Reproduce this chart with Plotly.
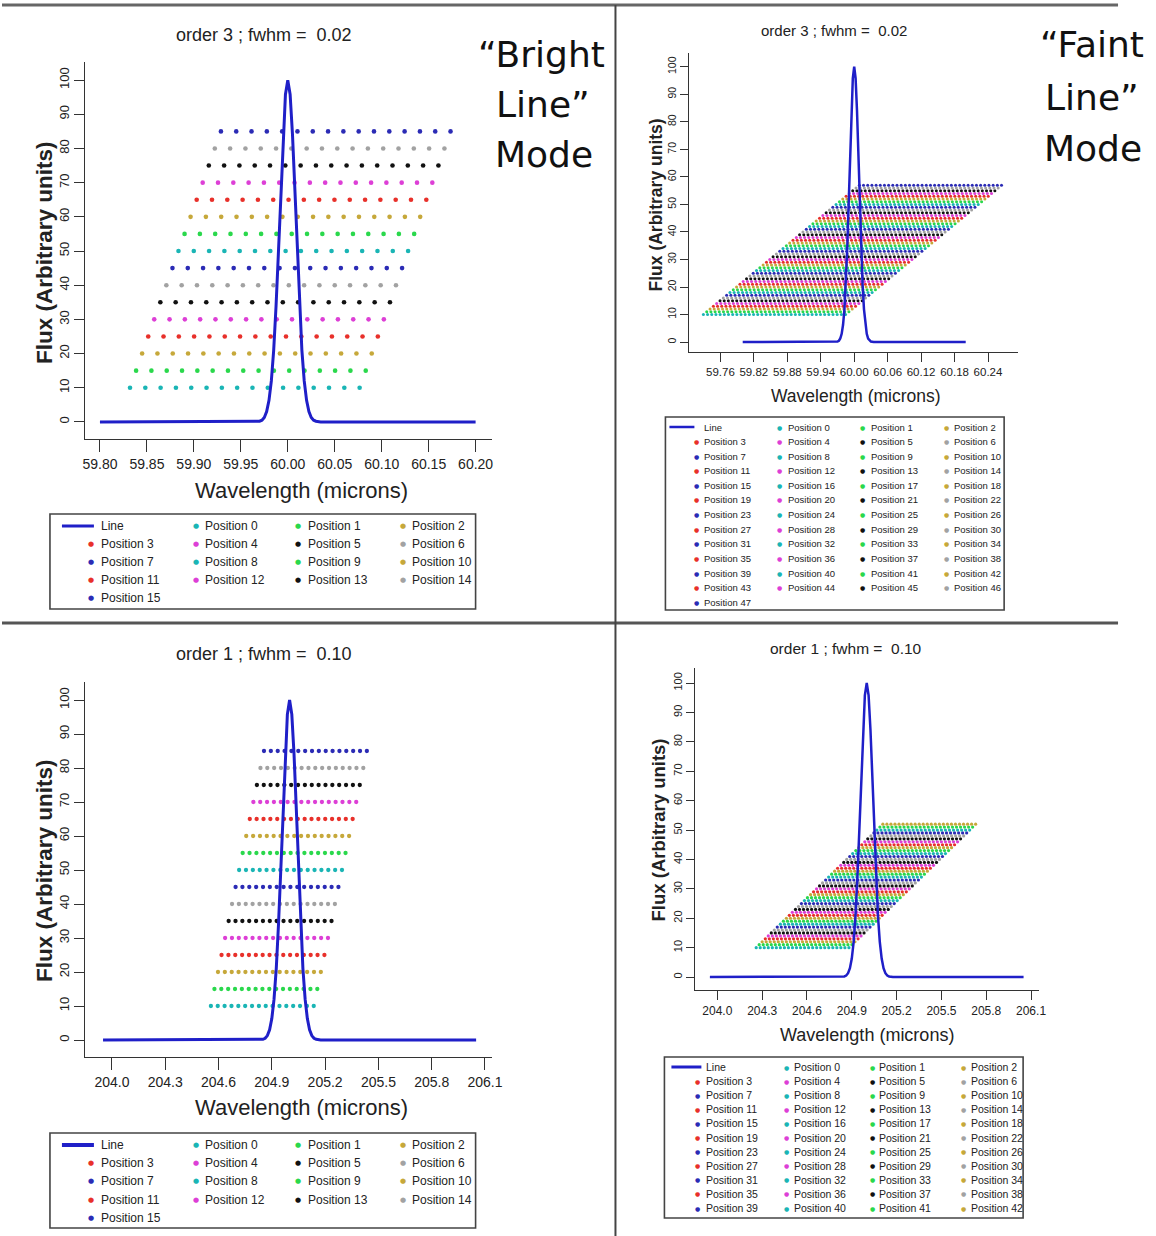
import plotly.graph_objects as go

REF_W, REF_H = 1156, 1236        # reference picture size (pixel coordinates used below)
FIG_W, FIG_H = 1168, 1236
FONT = "Liberation Sans, Arial, sans-serif"

# ---------------- data ----------------
palette = ["#1AB5B5", "#2AD84C", "#C6A83A", "#E8302A", "#DD3FD6", "#111111", "#A2A2A2", "#2B2BB5"]
line_color = "#1F1FC8"

flux_ticks = [0, 10, 20, 30, 40, 50, 60, 70, 80, 90, 100]
bright3_ticks = [59.80, 59.85, 59.90, 59.95, 60.00, 60.05, 60.10, 60.15, 60.20]
faint3_ticks = [59.76, 59.82, 59.88, 59.94, 60.00, 60.06, 60.12, 60.18, 60.24]
order1_ticks = [204.0, 204.3, 204.6, 204.9, 205.2, 205.5, 205.8, 206.1]

# emission line profile
line_flux = [0, 0, 0.2, 0.5, 1.3, 3.0, 6.3, 12.0, 21.0, 33.9, 50.0, 67.7, 84.1, 95.8, 100.0,
             95.8, 84.1, 67.7, 50.0, 33.9, 21.0, 12.0, 6.3, 3.0, 1.3, 0.5, 0.2, 0, 0]
order3_line_wl = [59.800, 59.965, 59.970, 59.9725, 59.975, 59.9775, 59.980, 59.9825, 59.985,
                  59.9875, 59.990, 59.9925, 59.995, 59.9975, 60.000, 60.0025, 60.005, 60.0075,
                  60.010, 60.0125, 60.015, 60.0175, 60.020, 60.0225, 60.025, 60.0275, 60.030,
                  60.035, 60.200]
order1_line_wl = [203.950, 204.825, 204.850, 204.8625, 204.875, 204.8875, 204.900, 204.9125,
                  204.925, 204.9375, 204.950, 204.9625, 204.975, 204.9875, 205.000, 205.0125,
                  205.025, 205.0375, 205.050, 205.0625, 205.075, 205.0875, 205.100, 205.1125,
                  205.125, 205.1375, 205.150, 205.175, 206.050]

# Bright line mode, order 3 (positions 0..15)
bright3_flux = [10, 15, 20, 25, 30, 35, 40, 45, 50, 55, 60, 65, 70, 75, 80, 85]
bright3_start = [59.8320, 59.8385, 59.8449, 59.8514, 59.8578, 59.8643, 59.8707, 59.8772,
                 59.8836, 59.8901, 59.8965, 59.9030, 59.9094, 59.9159, 59.9223, 59.9288]
bright3_offsets = [0.0, 0.0163, 0.0326, 0.0489, 0.0652, 0.0815, 0.0978, 0.1141,
                   0.1304, 0.1467, 0.1630, 0.1793, 0.1956, 0.2119, 0.2282, 0.2445]

# Faint line mode, order 3 (positions 0..47)
faint3_flux = [10, 11, 12, 13, 14, 15, 16, 17, 18, 19, 20, 21, 22, 23, 24, 25,
               26, 27, 28, 29, 30, 31, 32, 33, 34, 35, 36, 37, 38, 39, 40, 41,
               42, 43, 44, 45, 46, 47, 48, 49, 50, 51, 52, 53, 54, 55, 56, 57]
faint3_start = [59.7295, 59.7355, 59.7414, 59.7474, 59.7533, 59.7593, 59.7652, 59.7712,
                59.7771, 59.7831, 59.7890, 59.7950, 59.8009, 59.8069, 59.8128, 59.8188,
                59.8247, 59.8307, 59.8366, 59.8426, 59.8485, 59.8545, 59.8604, 59.8664,
                59.8723, 59.8783, 59.8842, 59.8902, 59.8961, 59.9021, 59.9080, 59.9140,
                59.9199, 59.9259, 59.9318, 59.9378, 59.9437, 59.9497, 59.9556, 59.9616,
                59.9675, 59.9735, 59.9794, 59.9854, 59.9913, 59.9973, 60.0032, 60.0092]
faint3_offsets = [0.0, 0.0075, 0.0150, 0.0225, 0.0300, 0.0375, 0.0450, 0.0525, 0.0600,
                  0.0675, 0.0750, 0.0825, 0.0900, 0.0975, 0.1050, 0.1125, 0.1200, 0.1275,
                  0.1350, 0.1425, 0.1500, 0.1575, 0.1650, 0.1725, 0.1800, 0.1875, 0.1950,
                  0.2025, 0.2100, 0.2175, 0.2250, 0.2325, 0.2400, 0.2475, 0.2550]

# Bright line mode, order 1 (positions 0..15)
bright1_flux = [10, 15, 20, 25, 30, 35, 40, 45, 50, 55, 60, 65, 70, 75, 80, 85]
bright1_start = [204.557, 204.577, 204.597, 204.617, 204.637, 204.657, 204.676, 204.696,
                 204.716, 204.736, 204.756, 204.776, 204.796, 204.816, 204.836, 204.856]
bright1_offsets = [0.0, 0.0386, 0.0772, 0.1158, 0.1544, 0.1930, 0.2316, 0.2702,
                   0.3088, 0.3474, 0.3860, 0.4246, 0.4632, 0.5018, 0.5404, 0.5790]

# Faint line mode, order 1 (positions 0..42)
faint1_flux = [10, 11, 12, 13, 14, 15, 16, 17, 18, 19, 20, 21, 22, 23, 24, 25,
               26, 27, 28, 29, 30, 31, 32, 33, 34, 35, 36, 37, 38, 39, 40, 41,
               42, 43, 44, 45, 46, 47, 48, 49, 50, 51, 52]
faint1_start = [204.260, 204.280, 204.300, 204.321, 204.341, 204.361, 204.381, 204.401,
                204.422, 204.442, 204.462, 204.482, 204.502, 204.523, 204.543, 204.563,
                204.583, 204.603, 204.624, 204.644, 204.664, 204.684, 204.704, 204.725,
                204.745, 204.765, 204.785, 204.805, 204.826, 204.846, 204.866, 204.886,
                204.906, 204.927, 204.947, 204.967, 204.987, 205.007, 205.028, 205.048,
                205.068, 205.088, 205.108]
faint1_offsets = [0.0, 0.027, 0.054, 0.081, 0.108, 0.135, 0.162, 0.189, 0.216, 0.243,
                  0.270, 0.297, 0.324, 0.351, 0.378, 0.405, 0.432, 0.459, 0.486, 0.513,
                  0.540, 0.567, 0.594, 0.621]

titles = ["order 3 ; fwhm = \u00a00.02", "order 3 ; fwhm = \u00a00.02",
          "order 1 ; fwhm = \u00a00.10", "order 1 ; fwhm = \u00a00.10"]

# ---------------- panel geometry (reference pixels) ----------------
panels = [
    dict(xdom=(83, 490), ydom=(62, 439), xr=(59.784, 60.217), yr=(-5, 105.3),
         xt=bright3_ticks, xfmt="{:.2f}", xfs=14, yfs=13, xtl=12, ytl=10,
         lwl=order3_line_wl, lw=3, flux=bright3_flux, start=bright3_start,
         off=bright3_offsets, ms=4.6,
         title=(262, 35, 18), xlab=(300, 490, 22), ylab=(42, 252, 22.5),
         leg=dict(box=(48, 514, 474, 609), y0=526, dy=18.1, mx=[89, 194, 296, 401],
                  tx=[97, 201, 304, 408], gl=(60, 92), glw=3, fs=12, ds=7)),
    dict(xdom=(688, 1017), ydom=(53, 352), xr=(59.7044, 60.294), yr=(-3.6, 105),
         xt=faint3_ticks, xfmt="{:.2f}", xfs=11.5, yfs=10.5, xtl=9, ytl=8,
         lwl=order3_line_wl, lw=2.5, flux=faint3_flux, start=faint3_start,
         off=faint3_offsets, ms=3.0,
         title=(833, 31, 15), xlab=(855, 396, 17.5), ylab=(655, 205, 17.5),
         leg=dict(box=(664, 417, 1003, 610), y0=427, dy=14.6, mx=[695, 778, 861, 945],
                  tx=[701, 785, 868, 951], gl=(668, 693), glw=2.5, fs=9.5, ds=6)),
    dict(xdom=(83, 490), ydom=(682, 1057), xr=(203.848, 206.137), yr=(-5, 105.3),
         xt=order1_ticks, xfmt="{:.1f}", xfs=14, yfs=13, xtl=12, ytl=10,
         lwl=order1_line_wl, lw=3, flux=bright1_flux, start=bright1_start,
         off=bright1_offsets, ms=4.3,
         title=(262, 654, 18), xlab=(300, 1107, 22), ylab=(42, 870, 22.5),
         leg=dict(box=(48, 1133, 474, 1228), y0=1145, dy=18.2, mx=[89, 194, 296, 401],
                  tx=[97, 201, 304, 408], gl=(60, 92), glw=4, fs=12, ds=7)),
    dict(xdom=(694, 1038), ydom=(668, 990), xr=(203.853, 206.154), yr=(-4.4, 105.1),
         xt=order1_ticks, xfmt="{:.1f}", xfs=12, yfs=11, xtl=9, ytl=8,
         lwl=order1_line_wl, lw=2.5, flux=faint1_flux, start=faint1_start,
         off=faint1_offsets, ms=3.2,
         title=(845, 648, 15.5), xlab=(866, 1035, 18), ylab=(657, 830, 18.5),
         leg=dict(box=(663, 1057, 1022, 1218), y0=1067, dy=14.1, mx=[696, 785, 871, 962],
                  tx=[703, 791, 876, 968], gl=(670, 700), glw=3, fs=10.5, ds=6)),
]


def px(xp):
    return xp / REF_W


def py(yp):
    return 1 - yp / REF_H


fig = go.Figure()
layout = dict(width=FIG_W, height=FIG_H, margin=dict(l=0, r=0, t=0, b=0),
              paper_bgcolor="white", plot_bgcolor="white", showlegend=False,
              font=dict(family=FONT, color="#222"))
annotations = []
shapes = []

for i, p in enumerate(panels, start=1):
    sfx = "" if i == 1 else str(i)
    xa = dict(domain=[px(p["xdom"][0]), px(p["xdom"][1])], range=list(p["xr"]),
              anchor="y" + sfx, showline=True, linecolor="#333", linewidth=1.3,
              ticks="outside", ticklen=p["xtl"], tickwidth=1.3, tickcolor="#333",
              tickvals=p["xt"], ticktext=[p["xfmt"].format(v) for v in p["xt"]],
              tickangle=0, tickfont=dict(size=p["xfs"], color="#222", family=FONT),
              showgrid=False, zeroline=False)
    ya = dict(domain=[py(p["ydom"][1]), py(p["ydom"][0])], range=list(p["yr"]),
              anchor="x" + sfx, showline=True, linecolor="#333", linewidth=1.3,
              ticks="outside", ticklen=p["ytl"], tickwidth=1.3, tickcolor="#333",
              tickvals=flux_ticks, ticktext=[str(v) for v in flux_ticks], tickangle=-90,
              tickfont=dict(size=p["yfs"], color="#222", family=FONT),
              showgrid=False, zeroline=False)
    layout["xaxis" + sfx] = xa
    layout["yaxis" + sfx] = ya

    # position dots
    for k, fl in enumerate(p["flux"]):
        xs = [p["start"][k] + o for o in p["off"]]
        fig.add_trace(go.Scatter(x=xs, y=[fl] * len(xs), mode="markers",
                                 marker=dict(color=palette[k % 8], size=p["ms"], line=dict(width=0)),
                                 xaxis="x" + sfx, yaxis="y" + sfx, name=f"Position {k}"))
    # line
    fig.add_trace(go.Scatter(x=p["lwl"], y=line_flux, mode="lines",
                             line=dict(color=line_color, width=p["lw"]),
                             xaxis="x" + sfx, yaxis="y" + sfx, name="Line"))

    # titles
    tx, ty, ts = p["title"]
    annotations.append(dict(x=px(tx), y=py(ty), xref="paper", yref="paper", text=titles[i - 1],
                            showarrow=False, xanchor="center", yanchor="middle",
                            font=dict(size=ts, color="#222", family=FONT)))
    lx, ly, ls = p["xlab"]
    annotations.append(dict(x=px(lx), y=py(ly), xref="paper", yref="paper",
                            text="Wavelength (microns)", showarrow=False,
                            xanchor="center", yanchor="middle",
                            font=dict(size=ls, color="#222", family=FONT)))
    fx, fy, fs = p["ylab"]
    annotations.append(dict(x=px(fx), y=py(fy), xref="paper", yref="paper",
                            text="<b>Flux (Arbitrary units)</b>", showarrow=False, textangle=-90,
                            xanchor="center", yanchor="middle",
                            font=dict(size=fs, color="#222", family=FONT)))

    # legend
    lg = p["leg"]
    names = ["Line"] + [f"Position {k}" for k in range(len(p["flux"]))]
    for j, nm in enumerate(names):
        r, c = divmod(j, 4)
        yy = lg["y0"] + r * lg["dy"]
        if j == 0:
            shapes.append(dict(type="line", xref="paper", yref="paper",
                               x0=px(lg["gl"][0]), x1=px(lg["gl"][1]), y0=py(yy), y1=py(yy),
                               line=dict(color=line_color, width=lg["glw"])))
        else:
            annotations.append(dict(x=px(lg["mx"][c]), y=py(yy), xref="paper", yref="paper",
                                    text="\u25cf", showarrow=False, xanchor="center",
                                    yanchor="middle",
                                    font=dict(size=lg["ds"], color=palette[(j - 1) % 8],
                                              family="DejaVu Sans")))
        annotations.append(dict(x=px(lg["tx"][c]), y=py(yy), xref="paper", yref="paper",
                                text=nm, showarrow=False, xanchor="left", yanchor="middle",
                                font=dict(size=lg["fs"], color="#222", family=FONT)))
    bx0, by0, bx1, by1 = lg["box"]
    shapes.append(dict(type="rect", xref="paper", yref="paper", x0=px(bx0), x1=px(bx1),
                       y0=py(by1), y1=py(by0), line=dict(color="#444", width=1.6)))

# mode labels
mode_text = [("\u201cBright", 540, 55), ("Line\u201d", 541, 105), ("Mode", 542, 155),
             ("\u201cFaint", 1091, 45), ("Line\u201d", 1091, 97), ("Mode", 1092, 148)]
for t, mx_, my_ in mode_text:
    annotations.append(dict(x=px(mx_), y=py(my_), xref="paper", yref="paper", text=t,
                            showarrow=False, xanchor="center", yanchor="middle",
                            font=dict(size=36, color="#111", family="DejaVu Sans")))

# panel dividers
shapes.append(dict(type="line", xref="paper", yref="paper", x0=0, x1=px(1117),
                   y0=py(5), y1=py(5), line=dict(color="#666", width=3)))
shapes.append(dict(type="line", xref="paper", yref="paper", x0=0, x1=px(1117),
                   y0=py(623), y1=py(623), line=dict(color="#555", width=3)))
shapes.append(dict(type="line", xref="paper", yref="paper", x0=px(614), x1=px(614),
                   y0=0, y1=py(5), line=dict(color="#444", width=2)))

layout["annotations"] = annotations
layout["shapes"] = shapes
fig.update_layout(**layout)
fig.write_html("out.html",
               post_script="document.body.style.margin='0';document.body.style.overflow='hidden';")
